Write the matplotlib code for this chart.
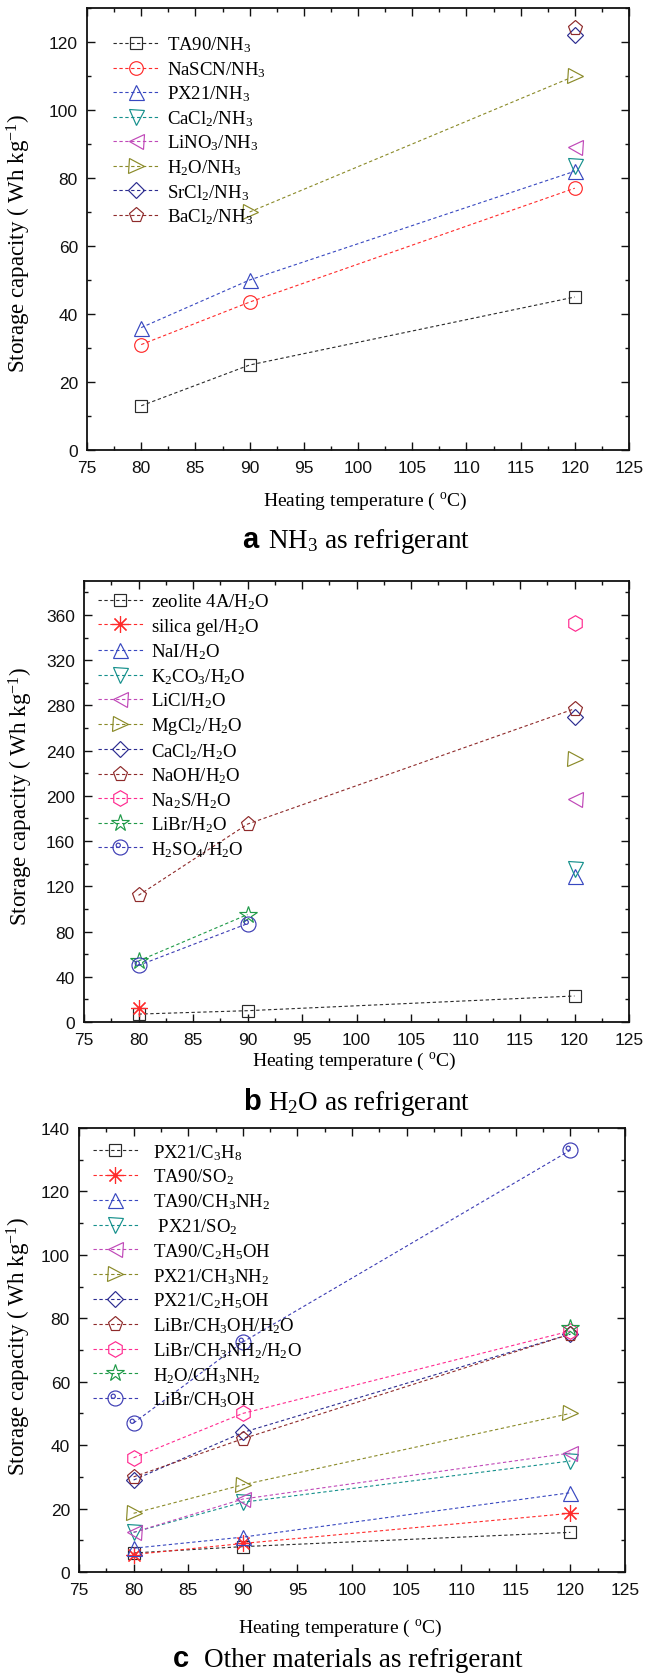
import numpy as np
import matplotlib
matplotlib.use("Agg")
import matplotlib.pyplot as plt
from matplotlib.path import Path
from matplotlib.ticker import MultipleLocator
from matplotlib.font_manager import FontProperties

nan = np.nan

# ---------------------------------------------------------------- data
temps = [80, 90, 120]

# (a) NH3 as refrigerant
nh3_ta90 = [13, 25, 45]
nh3_nascn = [31, 43.5, 77]
nh3_px21 = [36, 50, 82]
nh3_cacl2 = [nan, nan, 83.5]
nh3_lino3 = [nan, nan, 89]
nh3_h2o = [nan, 70, 110]
nh3_srcl2 = [nan, nan, 122]
nh3_bacl2 = [nan, nan, 124]

# (b) H2O as refrigerant
h2o_zeolite = [7, 10, 23]
h2o_silica = [12.5, nan, nan]
h2o_nai = [nan, nan, 129]
h2o_k2co3 = [nan, nan, 135]
h2o_licl = [nan, nan, 197]
h2o_mgcl2 = [nan, nan, 233]
h2o_cacl2 = [nan, nan, 270]
h2o_naoh = [112, 175, 277]
h2o_na2s = [nan, nan, 353]
h2o_libr = [54, 95, nan]
h2o_h2so4 = [50, 87, nan]

# (c) other refrigerants
oth_px21_c3h8 = [6, 8, 12.5]
oth_ta90_so2 = [5.5, 9, 18.5]
oth_ta90_ch3nh2 = [7.5, 11, 25]
oth_px21_so2 = [12.5, 22, 35]
oth_ta90_c2h5oh = [12.5, 23, 37.5]
oth_px21_ch3nh2 = [18.5, 27.5, 50]
oth_px21_c2h5oh = [29, 44, 75]
oth_libr_ch3oh_h2o = [30, 42, 75]
oth_libr_ch3nh2_h2o = [36, 50, 76]
oth_h2o_ch3nh2 = [nan, nan, 77]
oth_libr_ch3oh = [47, 72.5, 133]


def s(d):
    return r"$\mathregular{_{%s}}$" % d


labels_a = [f"TA90/NH{s(3)}", f"NaSCN/NH{s(3)}", f"PX21/NH{s(3)}",
            f"CaCl{s(2)}/NH{s(3)}", f"LiNO{s(3)}/NH{s(3)}", f"H{s(2)}O/NH{s(3)}",
            f"SrCl{s(2)}/NH{s(3)}", f"BaCl{s(2)}/NH{s(3)}"]
series_a = [nh3_ta90, nh3_nascn, nh3_px21, nh3_cacl2, nh3_lino3,
            nh3_h2o, nh3_srcl2, nh3_bacl2]

labels_b = [f"zeolite 4A/H{s(2)}O", f"silica gel/H{s(2)}O", f"NaI/H{s(2)}O",
            f"K{s(2)}CO{s(3)}/H{s(2)}O", f"LiCl/H{s(2)}O", f"MgCl{s(2)}/H{s(2)}O",
            f"CaCl{s(2)}/H{s(2)}O", f"NaOH/H{s(2)}O", f"Na{s(2)}S/H{s(2)}O",
            f"LiBr/H{s(2)}O", f"H{s(2)}SO{s(4)}/H{s(2)}O"]
series_b = [h2o_zeolite, h2o_silica, h2o_nai, h2o_k2co3, h2o_licl, h2o_mgcl2,
            h2o_cacl2, h2o_naoh, h2o_na2s, h2o_libr, h2o_h2so4]

labels_c = [f"PX21/C{s(3)}H{s(8)}", f"TA90/SO{s(2)}", f"TA90/CH{s(3)}NH{s(2)}",
            f" PX21/SO{s(2)}", f"TA90/C{s(2)}H{s(5)}OH", f"PX21/CH{s(3)}NH{s(2)}",
            f"PX21/C{s(2)}H{s(5)}OH", f"LiBr/CH{s(3)}OH/H{s(2)}O",
            f"LiBr/CH{s(3)}NH{s(2)}/H{s(2)}O", f"H{s(2)}O/CH{s(3)}NH{s(2)}",
            f"LiBr/CH{s(3)}OH"]
series_c = [oth_px21_c3h8, oth_ta90_so2, oth_ta90_ch3nh2, oth_px21_so2,
            oth_ta90_c2h5oh, oth_px21_ch3nh2, oth_px21_c2h5oh,
            oth_libr_ch3oh_h2o, oth_libr_ch3nh2_h2o, oth_h2o_ch3nh2,
            oth_libr_ch3oh]

# ---------------------------------------------------------------- styles
sphere = Path.make_compound_path(Path.unit_circle(),
                                 Path.circle(center=(-0.3, 0.3), radius=0.28))

BLACK, RED, BLUE, TEAL = "#2a2a2a", "#ff2b2b", "#3848c0", "#15908c"
MAGENTA, OLIVE, NAVY, WINE = "#c048b8", "#8a8a28", "#2c2c90", "#8e2a2a"
PINK, GREEN, ROYAL = "#ff2a90", "#1f9a48", "#3c3cb4"

styles_a = [("s", BLACK, 9), ("o", RED, 9.8), ("^", BLUE, 10.8),
            ("v", TEAL, 10.8), ("<", MAGENTA, 10.8), (">", OLIVE, 10.8),
            ("D", NAVY, 8), ("p", WINE, 11)]
styles_bc = [("s", BLACK, 9), ((8, 2, 0), RED, 12), ("^", BLUE, 10.8),
             ("v", TEAL, 10.8), ("<", MAGENTA, 10.8), (">", OLIVE, 10.8),
             ("D", NAVY, 8), ("p", WINE, 11), ("h", PINK, 11.2),
             ("*", GREEN, 13), (sphere, ROYAL, 10.8)]

SERIF = "Liberation Serif"
SANS = "Liberation Sans"
plt.rcParams["font.family"] = SERIF
plt.rcParams["mathtext.fontset"] = "custom"
plt.rcParams["mathtext.rm"] = SERIF

W, H = 645, 1674
fig = plt.figure(figsize=(W / 100, H / 100), dpi=100)
fig.patch.set_facecolor("white")


def frame(left, top, right, bottom):
    return fig.add_axes([left / W, 1 - bottom / H, (right - left) / W, (bottom - top) / H])


def panel(ax, labels, series, styles, ymax, ymaj, ymin, leg_xy, leg_tpad,
          leg_space, ylab_xy, xlab_xy):
    for lab, ys, (mk, col, ms) in zip(labels, series, styles):
        ax.plot(temps, ys, linestyle=(0, (3, 2.3)), linewidth=0.8, color=col,
                marker=mk, markersize=ms, markerfacecolor="none",
                markeredgecolor=col, markeredgewidth=0.85, label=lab)
    ax.set_xlim(75, 125)
    ax.set_ylim(0, ymax)
    ax.xaxis.set_major_locator(MultipleLocator(5))
    ax.xaxis.set_minor_locator(MultipleLocator(2.5))
    ax.yaxis.set_major_locator(MultipleLocator(ymaj))
    ax.yaxis.set_minor_locator(MultipleLocator(ymin))
    ax.tick_params(which="both", direction="in", top=True, right=True, width=1.0,
                   color="#111111")
    ax.tick_params(which="major", length=5.8)
    ax.tick_params(which="minor", length=3.0)
    ax.tick_params(axis="x", pad=7.5)
    ax.tick_params(axis="y", pad=6.5)
    for lbl in ax.get_xticklabels() + ax.get_yticklabels():
        lbl.set_fontfamily(SANS)
        lbl.set_fontsize(12.5)
        lbl.set_color("#111111")
    for sp in ax.spines.values():
        sp.set_linewidth(1.3)
        sp.set_color("#111111")
    ax.set_ylabel(r"Storage capacity ( Wh kg$\mathregular{^{-1}}$)", fontsize=16.5)
    ax.yaxis.set_label_coords(*ylab_xy)
    ax.set_xlabel(r"Heating temperature ( $\mathregular{^{o}}$C)", fontsize=14,
                  va="center")
    ax.xaxis.set_label_coords(*xlab_xy)
    ax.legend(loc="upper left", bbox_to_anchor=(leg_xy[0] / W, 1 - leg_xy[1] / H),
              bbox_transform=fig.transFigure, frameon=False, borderpad=0,
              borderaxespad=0, handlelength=2.4, handletextpad=leg_tpad,
              labelspacing=leg_space, numpoints=1,
              prop=FontProperties(family=SERIF, size=13.5))


ax_a = frame(87, 9, 629, 451)
panel(ax_a, labels_a, series_a, styles_a, 130, 20, 10, (113, 35.5), 0.5, 0.26,
      (-0.0996, 0.469), (0.513, -0.1147))

ax_b = frame(84, 582, 629, 1023)
panel(ax_b, labels_b, series_b, styles_bc, 390, 40, 20, (97.5, 592.5), 0.45, 0.255,
      (-0.09, 0.514), (0.495, -0.0878))

ax_c = frame(79, 1129, 625, 1573)
panel(ax_c, labels_c, series_c, styles_bc, 140, 20, 10, (92.6, 1143), 0.8, 0.27,
      (-0.084, 0.511), (0.478, -0.1239))


def caption(letter, text, x_letter, x_text, baseline):
    fig.text(x_letter / W, 1 - baseline / H, letter, family=SANS, weight="bold",
             fontsize=21, va="baseline", ha="left")
    fig.text(x_text / W, 1 - baseline / H, text, family=SERIF, fontsize=19.5,
             va="baseline", ha="left")


caption("a", f"NH{s(3)} as refrigerant", 242, 267.5, 548)
caption("b", f"H{s(2)}O as refrigerant", 243, 268, 1110)
caption("c", "Other materials as refrigerant", 173, 204.5, 1667)

fig.savefig("out.png", dpi=100, facecolor="white")
